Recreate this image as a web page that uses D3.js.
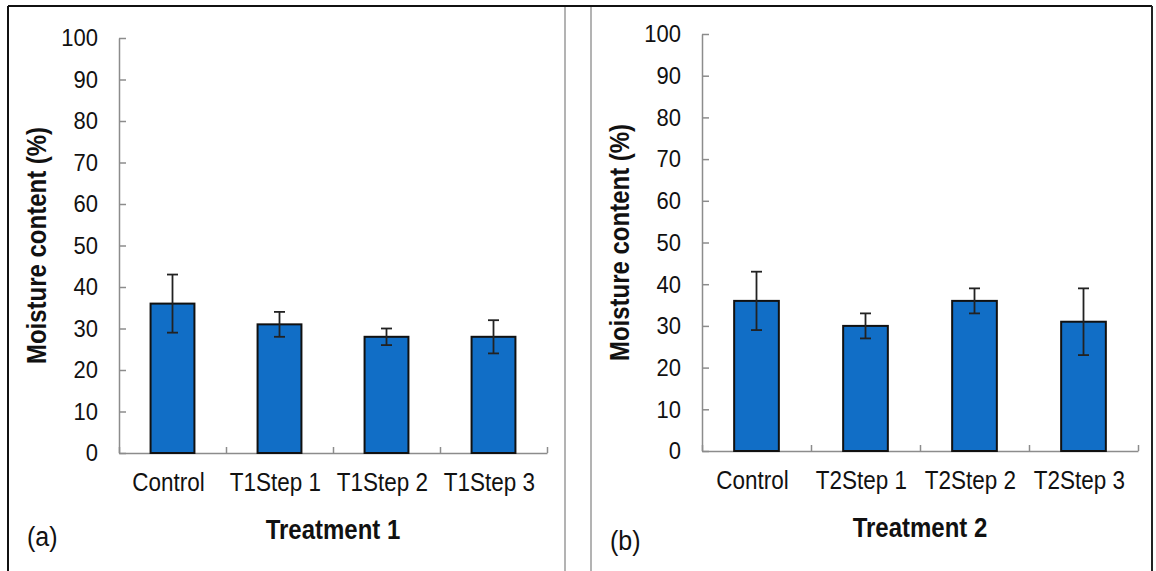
<!DOCTYPE html>
<html>
<head>
<meta charset="utf-8">
<script src="https://cdn.jsdelivr.net/npm/d3@7"></script>
<style>
  html, body { margin: 0; padding: 0; background: #fff; }
  svg { display: block; font-family: "Liberation Sans", Arial, sans-serif; }
</style>
</head>
<body>
<svg id="chart" width="1156" height="571"></svg>
<script>
// data
const categoriesA = ['Control', 'T1Step 1', 'T1Step 2', 'T1Step 3'];
const meansA = [36, 31, 28, 28];
const errorsA = [7, 3, 2, 4];

const categoriesB = ['Control', 'T2Step 1', 'T2Step 2', 'T2Step 3'];
const meansB = [36, 30, 36, 31];
const errorsB = [7, 3, 3, 8];

const yTicks = [0, 10, 20, 30, 40, 50, 60, 70, 80, 90, 100];
const yTitle = 'Moisture content (%)';

// the source text is a little taller than Arial
const stretch = 'scale(1,1.12)';
const FONT = '"Liberation Sans", Arial, sans-serif';

const svg = d3.select('#chart');

// frame round the two panels
const frame = svg.append('g');
frame.append('line').attr('x1', 8).attr('x2', 1152).attr('y1', 6).attr('y2', 6)
  .attr('stroke', '#111').attr('stroke-width', 2);
frame.append('line').attr('x1', 8).attr('x2', 8).attr('y1', 6).attr('y2', 571)
  .attr('stroke', '#111').attr('stroke-width', 2);
frame.append('line').attr('x1', 1152).attr('x2', 1152).attr('y1', 6).attr('y2', 571)
  .attr('stroke', '#222').attr('stroke-width', 2);
[565, 591].forEach(x => {
  frame.append('line').attr('x1', x).attr('x2', x).attr('y1', 7).attr('y2', 571)
    .attr('stroke', '#9a9a9a').attr('stroke-width', 1.5);
});

function drawPanel(opts) {
  const { categories, means, errors, x0, x1, yTop, yBottom, xTitle, tag, tagX, tagY } = opts;
  const g = svg.append('g');

  const x = d3.scaleBand()
    .domain(categories)
    .range([x0, x1])
    .paddingInner(0.59)
    .paddingOuter(0.295);

  const y = d3.scaleLinear().domain([0, 100]).range([yBottom, yTop]);

  // y axis, ticks pointing inwards
  const yAxis = g.append('g')
    .attr('transform', `translate(${x0},0)`)
    .call(d3.axisLeft(y).tickValues(yTicks).tickSizeInner(-7).tickSizeOuter(0).tickPadding(21));
  yAxis.select('.domain').attr('stroke', '#8c8c8c').attr('stroke-width', 1.5);
  yAxis.selectAll('.tick line').attr('stroke', '#8c8c8c').attr('stroke-width', 1.5);
  yAxis.selectAll('.tick text').attr('font-size', 22).attr('fill', '#111')
    .attr('font-family', FONT).attr('transform', stretch);

  // x axis line with category labels
  const xAxis = g.append('g')
    .attr('transform', `translate(0,${yBottom})`)
    .call(d3.axisBottom(x).tickSize(0).tickPadding(18));
  xAxis.select('.domain').attr('stroke', '#8c8c8c').attr('stroke-width', 1.5);
  xAxis.selectAll('.tick text').attr('font-size', 22.5).attr('fill', '#111').attr('dx', -4)
    .attr('font-family', FONT).attr('transform', stretch);

  // tick marks between categories
  const bounds = d3.scaleLinear().domain([0, categories.length]).range([x0, x1]);
  const bAxis = g.append('g')
    .attr('transform', `translate(0,${yBottom})`)
    .call(d3.axisBottom(bounds).ticks(categories.length).tickSize(-6).tickFormat(''));
  bAxis.select('.domain').remove();
  bAxis.selectAll('.tick line').attr('stroke', '#8c8c8c').attr('stroke-width', 1.5);

  // bars
  g.selectAll('rect.bar')
    .data(categories)
    .join('rect')
    .attr('class', 'bar')
    .attr('x', d => x(d))
    .attr('width', x.bandwidth())
    .attr('y', (d, i) => y(means[i]))
    .attr('height', (d, i) => y(0) - y(means[i]))
    .attr('fill', '#116ec6')
    .attr('stroke', '#111')
    .attr('stroke-width', 2);

  // error bars
  const cap = 5.5;
  const eb = g.selectAll('g.err')
    .data(categories)
    .join('g')
    .attr('class', 'err')
    .attr('stroke', '#222')
    .attr('stroke-width', 1.8);
  eb.append('line')
    .attr('x1', d => x(d) + x.bandwidth() / 2)
    .attr('x2', d => x(d) + x.bandwidth() / 2)
    .attr('y1', (d, i) => y(means[i] + errors[i]))
    .attr('y2', (d, i) => y(means[i] - errors[i]));
  eb.append('line')
    .attr('x1', d => x(d) + x.bandwidth() / 2 - cap)
    .attr('x2', d => x(d) + x.bandwidth() / 2 + cap)
    .attr('y1', (d, i) => y(means[i] + errors[i]))
    .attr('y2', (d, i) => y(means[i] + errors[i]));
  eb.append('line')
    .attr('x1', d => x(d) + x.bandwidth() / 2 - cap)
    .attr('x2', d => x(d) + x.bandwidth() / 2 + cap)
    .attr('y1', (d, i) => y(means[i] - errors[i]))
    .attr('y2', (d, i) => y(means[i] - errors[i]));

  // axis titles
  const ty = (yTop + yBottom) / 2;
  g.append('text')
    .attr('transform', `translate(${x0 - 82},${ty}) rotate(-90) ${stretch}`)
    .attr('text-anchor', 'middle')
    .attr('dominant-baseline', 'central')
    .attr('font-size', 24)
    .attr('font-weight', 'bold')
    .attr('fill', '#111')
    .text(yTitle);

  g.append('text')
    .attr('transform', `translate(${(x0 + x1) / 2},${yBottom + 86}) ${stretch}`)
    .attr('text-anchor', 'middle')
    .attr('font-size', 24)
    .attr('font-weight', 'bold')
    .attr('fill', '#111')
    .text(xTitle);

  g.append('text')
    .attr('transform', `translate(${tagX},${tagY}) ${stretch}`)
    .attr('font-size', 25)
    .attr('fill', '#111')
    .text(tag);
}

drawPanel({
  categories: categoriesA, means: meansA, errors: errorsA,
  x0: 119, x1: 547, yTop: 38, yBottom: 453,
  xTitle: 'Treatment 1', tag: '(a)', tagX: 27, tagY: 546
});

drawPanel({
  categories: categoriesB, means: meansB, errors: errorsB,
  x0: 702, x1: 1138, yTop: 34, yBottom: 451,
  xTitle: 'Treatment 2', tag: '(b)', tagX: 610, tagY: 550
});
</script>
</body>
</html>
